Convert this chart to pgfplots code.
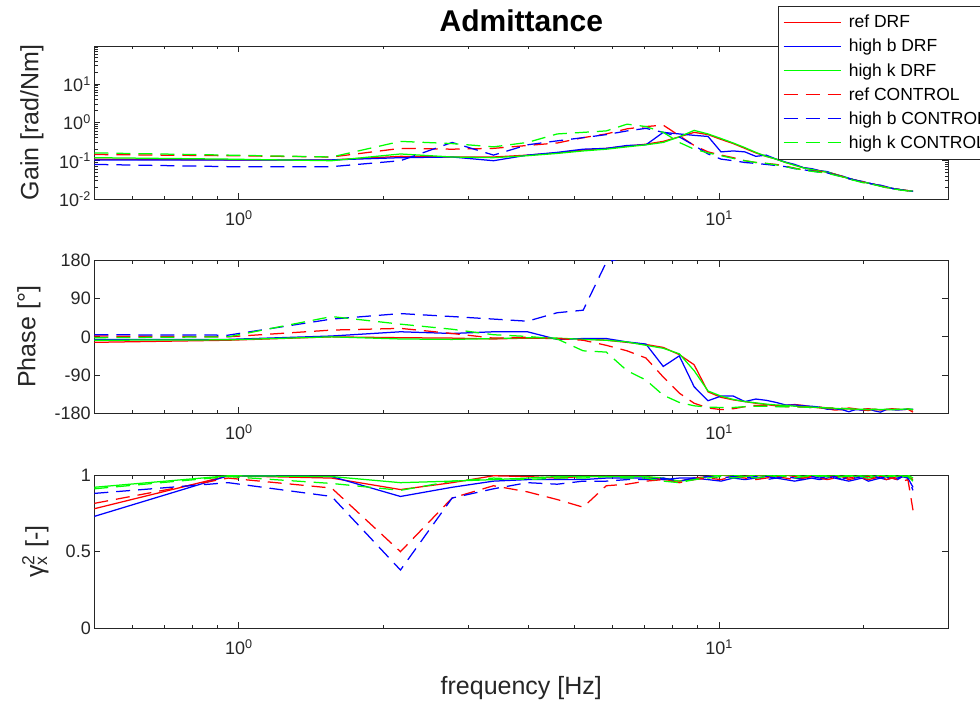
\documentclass[border=0pt]{standalone}
\usepackage{fontspec}
\setmainfont{Liberation Sans}
\usepackage{pgfplots}
\usepackage{pgfplotstable}
\pgfplotsset{compat=1.18}
\definecolor{axgray}{RGB}{38,38,38}
\definecolor{mred}{RGB}{255,0,0}
\definecolor{mblue}{RGB}{0,0,255}
\definecolor{mgreen}{RGB}{0,255,0}

\pgfplotstableread{
f rD bD kD rC bC kC
0.5 0.11 0.105 0.12 0.145 0.08 0.16
0.95 0.105 0.105 0.11 0.135 0.07 0.14
1.56 0.105 0.105 0.10 0.125 0.07 0.125
2.17 0.13 0.12 0.15 0.21 0.10 0.32
2.78 0.125 0.125 0.125 0.20 0.30 0.28
3.39 0.125 0.10 0.12 0.21 0.14 0.23
3.99 0.14 0.14 0.135 0.25 0.26 0.30
4.60 0.16 0.165 0.155 0.29 0.33 0.50
5.21 0.19 0.20 0.18 0.40 0.40 0.55
5.82 0.21 0.21 0.20 0.50 0.48 0.60
6.43 0.24 0.25 0.23 0.68 0.60 0.90
7.04 0.27 0.26 0.26 0.78 0.70 0.78
7.65 0.32 0.55 0.30 0.85 0.55 0.55
8.26 0.42 0.50 0.42 0.45 0.42 0.30
8.87 0.55 0.46 0.62 0.25 0.25 0.20
9.48 0.48 0.43 0.50 0.17 0.15 0.16
10.09 0.36 0.17 0.38 0.14 0.11 0.135
10.70 0.28 0.18 0.29 0.12 0.10 0.115
11.31 0.21 0.17 0.22 0.10 0.09 0.10
11.92 0.16 0.13 0.165 0.09 0.085 0.09
12.53 0.13 0.14 0.13 0.085 0.08 0.085
13.14 0.11 0.11 0.11 0.08 0.075 0.078
13.75 0.09 0.092 0.09 0.072 0.07 0.07
14.36 0.077 0.08 0.076 0.064 0.062 0.063
14.97 0.066 0.066 0.065 0.058 0.058 0.057
15.58 0.060 0.062 0.059 0.055 0.054 0.053
16.18 0.055 0.055 0.054 0.052 0.050 0.050
16.79 0.050 0.052 0.050 0.049 0.048 0.047
17.40 0.045 0.044 0.045 0.044 0.043 0.042
18.01 0.039 0.040 0.039 0.039 0.038 0.038
18.62 0.034 0.035 0.034 0.034 0.034 0.033
19.23 0.031 0.031 0.031 0.031 0.031 0.030
19.84 0.028 0.029 0.028 0.028 0.028 0.027
20.45 0.026 0.026 0.026 0.026 0.026 0.025
21.06 0.024 0.024 0.024 0.024 0.024 0.0235
21.67 0.022 0.023 0.022 0.022 0.022 0.0215
22.28 0.020 0.021 0.020 0.020 0.020 0.0198
22.89 0.019 0.019 0.019 0.019 0.019 0.0186
23.50 0.018 0.018 0.018 0.018 0.018 0.0177
24.11 0.0172 0.0172 0.0172 0.0172 0.0172 0.0169
24.72 0.0165 0.0165 0.0165 0.0165 0.0165 0.0162
25.33 0.016 0.0158 0.016 0.016 0.016 0.0158
}\gaintab

\pgfplotstableread{
f rD bD kD rC bC kC
0.5 -13 -6 -8 2 5 -2
0.95 -8 -6 -7 0 4 0
1.56 0 2 0 16 42 48
2.17 -2 12 -5 20 55 30
2.78 -3 8 -6 8 48 18
3.39 -5 12 -4 -3 42 5
3.99 -3 12 -2 -1 37 1
4.60 -4 -6 -3 -4 57 -5
5.21 -5 -4 -6 -8 63 -33
5.82 -8 -4 -8 -20 176 -36
6.43 -13 -12 -12 -33 190 -80
7.04 -18 -17 -20 -50 200 -102
7.65 -25 -70 -27 -95 200 -138
8.26 -42 -45 -40 -133 200 -155
8.87 -66 -118 -80 -157 200 -163
9.48 -130 -151 -128 -168 200 -166
10.09 -143 -140 -140 -172 200 -167
10.70 -149 -140 -148 -170 200 -167
11.31 -153 -153 -153 -165 200 -165
11.92 -157 -147 -156 -162 200 -164
12.53 -160 -150 -159 -163 200 -164
13.14 -163 -155 -161 -164 200 -165
13.75 -162 -161 -162 -165 200 -165
14.36 -160 -161 -164 -165 200 -166
14.97 -162 -163 -165 -166 200 -166
15.58 -166 -164 -166 -167 200 -167
16.18 -168 -166 -167 -166 200 -167
16.79 -170 -171 -168 -168 200 -168
17.40 -173 -170 -169 -168 200 -168
18.01 -172 -172 -170 -169 200 -169
18.62 -168 -177 -170 -170 200 -170
19.23 -170 -172 -171 -171 200 -171
19.84 -173 -173 -171 -171 200 -171
20.45 -174 -170 -172 -170 200 -172
21.06 -171 -175 -171 -172 200 -172
21.67 -173 -178 -172 -173 200 -171
22.28 -172 -172 -171 -172 200 -172
22.89 -170 -172 -172 -171 200 -172
23.50 -171 -173 -171 -172 200 -172
24.11 -172 -172 -171 -172 200 -171
24.72 -171 -171 -170 -171 200 -171
25.33 -178 -171 -172 -173 200 -172
}\phasetab

\pgfplotstableread{
f rD bD kD rC bC kC
0.5 0.78 0.73 0.92 0.815 0.88 0.91
0.95 0.995 0.995 0.995 0.98 0.95 0.99
1.56 0.98 0.99 0.99 0.915 0.86 0.945
2.17 0.905 0.86 0.95 0.50 0.38 0.90
2.78 0.95 0.92 0.96 0.85 0.85 0.96
3.39 0.995 0.96 0.97 0.93 0.91 0.98
3.99 0.99 0.97 0.98 0.89 0.95 0.97
4.60 0.98 0.97 0.99 0.84 0.94 0.98
5.21 0.99 0.97 0.99 0.79 0.96 0.98
5.82 0.99 0.98 0.99 0.93 0.96 0.99
6.43 0.99 0.98 0.99 0.94 0.97 0.98
7.04 0.99 0.98 0.99 0.96 0.97 0.98
7.65 0.97 0.97 0.98 0.97 0.98 0.96
8.26 0.96 0.98 0.96 0.95 0.96 0.95
8.87 0.98 0.98 0.97 0.97 0.98 0.97
9.48 0.99 0.97 0.99 0.98 0.99 0.98
10.09 1.0 0.96 1.0 0.97 0.98 0.99
10.70 0.99 0.98 1.0 0.99 0.99 0.98
11.31 0.99 0.97 0.99 0.98 0.98 0.99
11.92 1.0 0.98 1.0 0.97 0.99 0.98
12.53 0.99 0.99 1.0 0.98 0.97 0.99
13.14 0.99 0.98 0.99 0.99 0.98 1.0
13.75 1.0 0.97 1.0 0.98 0.99 0.99
14.36 0.99 0.96 1.0 0.97 0.98 0.98
14.97 0.98 0.97 0.99 0.98 0.97 0.99
15.58 0.99 0.98 1.0 0.99 0.99 0.99
16.18 1.0 0.97 0.99 0.98 0.98 1.0
16.79 0.99 0.98 1.0 0.97 0.99 0.99
17.40 0.99 0.99 1.0 0.98 0.98 0.98
18.01 0.99 0.97 0.99 0.99 0.97 0.99
18.62 0.98 0.96 1.0 0.97 0.99 0.99
19.23 0.99 0.97 0.99 0.98 0.98 1.0
19.84 0.99 0.98 1.0 0.98 0.99 0.99
20.45 0.99 0.96 1.0 0.97 0.98 0.98
21.06 0.98 0.97 0.99 0.98 0.99 0.99
21.67 0.99 0.98 1.0 0.99 0.98 1.0
22.28 0.99 0.97 0.99 0.97 0.99 0.99
22.89 0.98 0.98 1.0 0.98 0.97 0.99
23.50 0.99 0.97 0.99 0.97 0.98 1.0
24.11 0.99 0.99 1.0 0.96 0.99 0.99
24.72 0.99 0.98 1.0 0.97 0.98 0.99
25.33 0.97 0.92 0.98 0.77 0.90 0.96
}\cohtab

\pgfplotsset{
  every axis/.append style={
    scale only axis, width=854pt,
    xmin=0.5, xmax=30,
    xtick={1,10}, xticklabels={10\textsuperscript{0},10\textsuperscript{1}},
    minor xtick={0.5,0.6,0.7,0.8,0.9,2,3,4,5,6,7,8,9,20,30},
    axis line style={axgray, line width=0.8pt},
    tick style={axgray, line width=0.8pt},
    major tick length=6pt, minor tick length=3.5pt,
    tick align=inside,
    tick label style={font=\fontsize{18}{21}\selectfont, text=axgray},
    xticklabel style={yshift=-8pt},
    label style={font=\fontsize{25}{28}\selectfont, text=axgray},
  },
}

\begin{document}
\begin{tikzpicture}
% Gain
\begin{axis}[xmode=log, ymode=log, at={(94.3pt,-46pt)}, anchor=north west, height=153pt,
  ymin=0.01, ymax=99,
  ytick={0.01,0.1,1,10},
  yticklabels={10\textsuperscript{-2},10\textsuperscript{-1},10\textsuperscript{0},10\textsuperscript{1}},
  minor ytick={0.02,0.03,0.04,0.05,0.06,0.07,0.08,0.09,0.2,0.3,0.4,0.5,0.6,0.7,0.8,0.9,2,3,4,5,6,7,8,9,20,30,40,50,60,70,80,90},
  ylabel={Gain [rad/Nm]},
  ylabel style={at={(axis description cs:-0.073,0.5)}, anchor=center},
  title={Admittance},
  title style={at={(axis description cs:0.5,1)}, anchor=base, yshift=9pt,
    font=\fontsize{30}{32}\selectfont\bfseries},
  legend style={at={(axis description cs:0.8002,1.2614)}, anchor=north west,
    draw=axgray, fill=white,
    font=\fontsize{17.5}{20}\selectfont,
    inner xsep=5pt, inner ysep=7pt, row sep=5.9pt, column sep=5.7pt},
  legend cell align=left,
  legend image code/.code={\draw[#1] (0pt,0pt) -- (57pt,0pt);},
]
\addplot[color=mred, line width=1.25pt] table[x=f, y=rD] {\gaintab};
\addlegendentry{ref DRF}
\addplot[color=mblue, line width=1.25pt] table[x=f, y=bD] {\gaintab};
\addlegendentry{high b DRF}
\addplot[color=mgreen, line width=1.25pt] table[x=f, y=kD] {\gaintab};
\addlegendentry{high k DRF}
\addplot[color=mred, line width=1.25pt, dash pattern=on 14pt off 8pt] table[x=f, y=rC] {\gaintab};
\addlegendentry{ref CONTROL}
\addplot[color=mblue, line width=1.25pt, dash pattern=on 14pt off 8pt] table[x=f, y=bC] {\gaintab};
\addlegendentry{high b CONTROL}
\addplot[color=mgreen, line width=1.25pt, dash pattern=on 14pt off 8pt] table[x=f, y=kC] {\gaintab};
\addlegendentry{high k CONTROL}
\end{axis}
% Phase
\begin{axis}[xmode=log, at={(94.3pt,-260.7pt)}, anchor=north west, height=152.3pt,
  ymin=-180, ymax=180, ytick={-180,-90,0,90,180},
  yticklabels={-180,-90,0,90,180},
  ylabel={Phase [°]},
  ylabel style={at={(axis description cs:-0.0765,0.5)}, anchor=center},
]
\addplot[color=mred, line width=1.25pt] table[x=f, y=rD] {\phasetab};
\addplot[color=mblue, line width=1.25pt] table[x=f, y=bD] {\phasetab};
\addplot[color=mgreen, line width=1.25pt] table[x=f, y=kD] {\phasetab};
\addplot[color=mred, line width=1.25pt, dash pattern=on 14pt off 8pt] table[x=f, y=rC] {\phasetab};
\addplot[color=mblue, line width=1.25pt, dash pattern=on 14pt off 8pt] table[x=f, y=bC] {\phasetab};
\addplot[color=mgreen, line width=1.25pt, dash pattern=on 14pt off 8pt] table[x=f, y=kC] {\phasetab};
\end{axis}
% Coherence
\begin{axis}[xmode=log, at={(94.3pt,-475pt)}, anchor=north west, height=153.3pt,
  ymin=0, ymax=1, ytick={0,0.5,1},
  yticklabels={0,0.5,1},
  ylabel={γ\rlap{\textsubscript{x}}\textsuperscript{2} [-]},
  ylabel style={at={(axis description cs:-0.069,0.5)}, anchor=center},
  xlabel={frequency [Hz]},
  xlabel style={at={(axis description cs:0.5,-0.39)}, anchor=center},
]
\addplot[color=mred, line width=1.25pt] table[x=f, y=rD] {\cohtab};
\addplot[color=mblue, line width=1.25pt] table[x=f, y=bD] {\cohtab};
\addplot[color=mgreen, line width=1.25pt] table[x=f, y=kD] {\cohtab};
\addplot[color=mred, line width=1.25pt, dash pattern=on 14pt off 8pt] table[x=f, y=rC] {\cohtab};
\addplot[color=mblue, line width=1.25pt, dash pattern=on 14pt off 8pt] table[x=f, y=bC] {\cohtab};
\addplot[color=mgreen, line width=1.25pt, dash pattern=on 14pt off 8pt] table[x=f, y=kC] {\cohtab};
\end{axis}
\pgfresetboundingbox
\path[use as bounding box] (0pt,0pt) rectangle (980pt,-701pt);
\end{tikzpicture}
\end{document}
